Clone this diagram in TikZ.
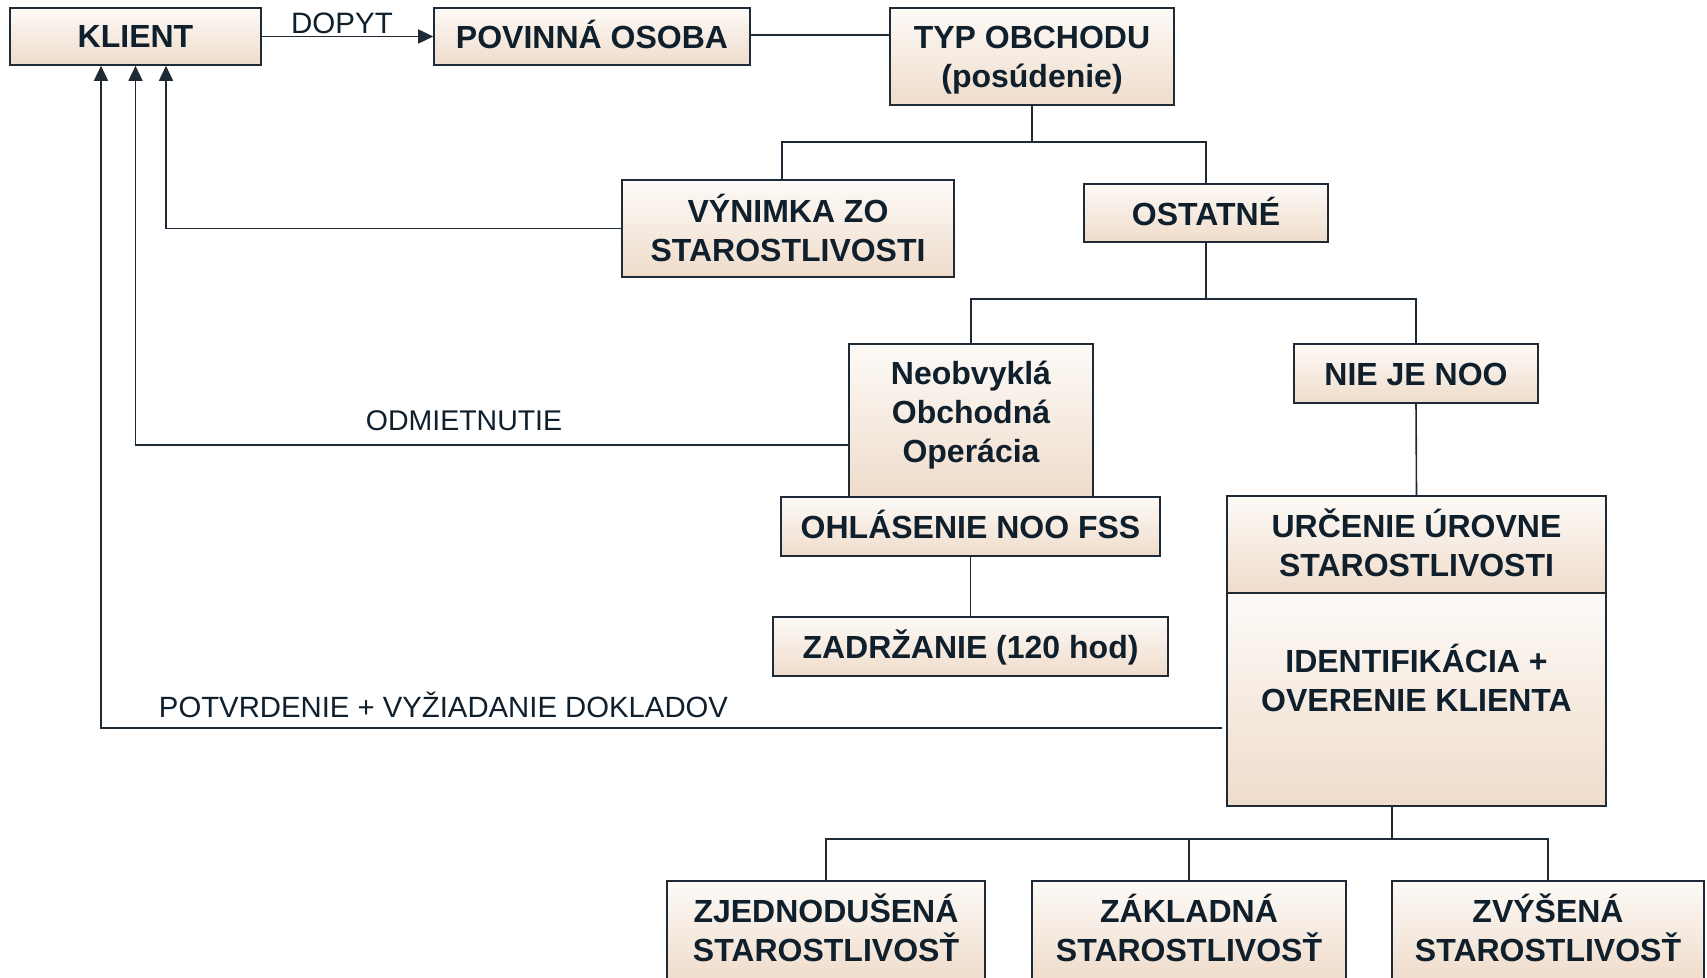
\documentclass[tikz,border=0pt]{standalone}
\usepackage{fontspec}
\setmainfont{Liberation Sans}
\usetikzlibrary{arrows.meta}
\definecolor{boxtop}{RGB}{253,250,247}
\definecolor{boxbot}{RGB}{239,220,203}
\definecolor{edge}{RGB}{30,42,54}
\definecolor{txt}{RGB}{16,31,44}
\tikzset{
 box/.style={draw=edge, line width=1.6pt, top color=boxtop, bottom color=boxbot, inner sep=0pt},
 btext/.style={font=\bfseries\fontsize{32}{39}\selectfont, text=txt, align=center, inner sep=0pt},
 conn/.style={draw=edge, line width=1.6pt},
 arr/.style={conn, -{Triangle[length=15pt,width=14pt]}},
 lbl/.style={font=\fontsize{28.5}{34}\selectfont, text=txt, inner sep=0pt}
}
\begin{document}
\begin{tikzpicture}[x=1pt,y=-1pt]
\clip (0,0) rectangle (1707,977);
\fill[white] (0,0) rectangle (1707,977);
% boxes
\node[box, minimum width=251pt, minimum height=57pt] (klient) at (135.5,36.5) {};
\node[box, minimum width=316pt, minimum height=57pt] (pov) at (592,36.5) {};
\node[box, minimum width=284pt, minimum height=97pt] (typ) at (1032,56.5) {};
\node[box, minimum width=332pt, minimum height=97pt] (vyn) at (788,228.5) {};
\node[box, minimum width=244pt, minimum height=58pt] (ost) at (1206,213) {};
\node[box, minimum width=244pt, minimum height=153pt] (neo) at (971,420.5) {};
\node[box, minimum width=379pt, minimum height=59pt] (ohl) at (970.5,526.5) {};
\node[box, minimum width=395pt, minimum height=59pt] (zad) at (970.5,646.5) {};
\node[box, minimum width=244pt, minimum height=59pt] (nie) at (1416,373.5) {};
\node[box, minimum width=379pt, minimum height=213pt] (ide) at (1416.5,699.5) {};
\node[box, minimum width=379pt, minimum height=97pt] (urc) at (1416.5,544.5) {};
\node[box, minimum width=318pt, minimum height=100pt] (zje) at (826,931) {};
\node[box, minimum width=314pt, minimum height=100pt] (zak) at (1189,931) {};
\node[box, minimum width=312pt, minimum height=100pt] (zvy) at (1548,931) {};
% texts
\node[btext] (klientt) at (klient.center) {KLIENT};
\node[btext] (povt) at ([yshift=2pt]pov.center) {POVINNÁ OSOBA};
\node[btext] (typt) at ([yshift=-3.5pt]typ.center) {TYP OBCHODU\\(posúdenie)};
\node[btext] (vynt) at ([yshift=1pt]vyn.center) {VÝNIMKA ZO\\STAROSTLIVOSTI};
\node[btext] (ostt) at ([yshift=2pt]ost.center) {OSTATNÉ};
\node[btext] (neot) at ([yshift=5.5pt]neo.center) {Neobvyklá\\Obchodná\\Operácia};
\node[btext] (ohlt) at ([yshift=2pt]ohl.center) {OHLÁSENIE NOO FSS};
\node[btext] (zadt) at ([yshift=-1pt]zad.center) {ZADRŽANIE (120 hod)};
\node[btext] (niet) at ([yshift=-1pt]nie.center) {NIE JE NOO};
\node[btext] (urct) at ([yshift=2pt]urc.center) {URČENIE ÚROVNE\\STAROSTLIVOSTI};
\node[btext] (idet) at (1416.5,678) {IDENTIFIKÁCIA +\\OVERENIE KLIENTA};
\node[btext] (zjet) at ([yshift=3pt]zje.center) {ZJEDNODUŠENÁ\\STAROSTLIVOSŤ};
\node[btext] (zakt) at ([yshift=3pt]zak.center) {ZÁKLADNÁ\\STAROSTLIVOSŤ};
\node[btext] (zvyt) at ([yshift=3pt]zvy.center) {ZVÝŠENÁ\\STAROSTLIVOSŤ};
% connectors
\draw[arr] (klient) -- (pov);
\node[lbl, font=\fontsize{29.5}{34}\selectfont] (dopyt) at (342,23) {DOPYT};
\draw[conn] (pov.east |- 0,35) -- (typ.west |- 0,35);
\draw[conn] (typ.south) -- (typ.south |- 0,142);
\draw[conn] (vyn.north -| 782,0) -- (782,142) -| (ost.north);
\draw[arr] (vyn.west) -| ([xshift=30.5pt]klient.south);
\draw[conn] (ost.south) -- (ost.south |- 0,299);
\draw[conn] (neo.north) -- (neo.north |- 0,299) -- (nie.north |- 0,299) -- (nie.north);
\draw[arr] (neo.west |- 0,445) -| (klient.south);
\node[lbl] (odm) at (464,421) {ODMIETNUTIE};
\draw[conn] (ohl.south) -- (zad.north);
\draw[conn] (nie.south) -- (urc.north);
\coordinate (ideout) at (1222,728);
\draw[arr] (ideout) -| ([xshift=-34.5pt]klient.south);
\node[lbl, font=\fontsize{29.3}{34}\selectfont] (potv) at (443.5,705) {POTVRDENIE + VYŽIADANIE DOKLADOV};
\draw[conn] ([xshift=-24.5pt]ide.south) -- ([xshift=-24.5pt]ide.south |- 0,839);
\draw[conn] (zje.north) -- (zje.north |- 0,839) -- (zvy.north |- 0,839) -- (zvy.north);
\draw[conn] (zak.north) -- (zak.north |- 0,839);
\end{tikzpicture}
\end{document}
